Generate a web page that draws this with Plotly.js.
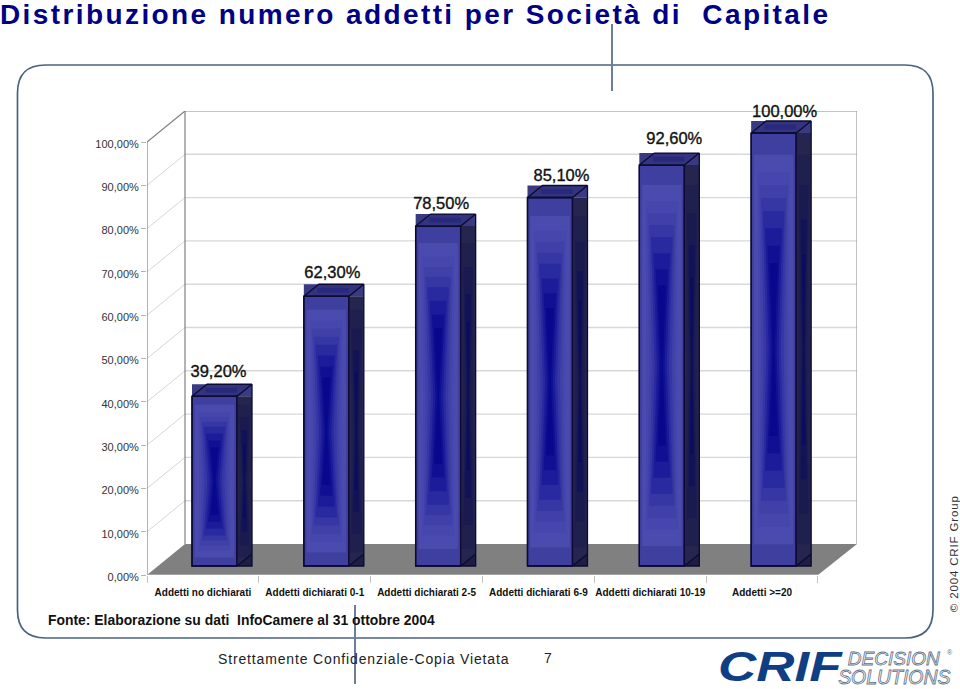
<!DOCTYPE html>
<html><head><meta charset="utf-8">
<script src="https://cdn.plot.ly/plotly-3.0.1.min.js"></script>
<style>
html,body{margin:0;padding:0;background:#fff}
#c{width:960px;height:689px}
.gtitle{letter-spacing:2.4px}
g.annotation[data-index="1"] text{letter-spacing:.85px}
g.annotation[data-index="3"] text{letter-spacing:.85px}
g.annotation[data-index="4"] text{transform-box:fill-box;transform-origin:center;transform:translateY(1px) scale(1.47,1.2)}
g.annotation[data-index="5"] text,g.annotation[data-index="6"] text{fill:#fff !important;stroke:#5f7288;stroke-width:.6px;transform-box:fill-box;transform-origin:center;transform:scale(1.36)}
.textpoint text{stroke:#111;stroke-width:.35px}
</style>
</head><body><div id="c"></div>
<script>
// ---- chart data ----
const categories = ['Addetti no dichiarati','Addetti dichiarati 0-1','Addetti dichiarati 2-5','Addetti dichiarati 6-9','Addetti dichiarati 10-19','Addetti >=20'];
const values = [39.2, 62.3, 78.5, 85.1, 92.6, 100];
const yTicks = [0,10,20,30,40,50,60,70,80,90,100];
const yTickLabels = ['0,00%','10,00%','20,00%','30,00%','40,00%','50,00%','60,00%','70,00%','80,00%','90,00%','100,00%'];

// ---- figure geometry (pixels of the frame) ----
const W=960,H=689, L=147,R=857,T=111,B=575;
const xUnit=111.83, yUnit=4.33;
const xMax=(R-L)/xUnit, yMax=(B-T)/yUnit;
const wallDX=38/xUnit, wallDY=31/yUnit;
const floorRight=6;
const barW=45/xUnit, barLeft=45/xUnit, barBase=9/yUnit, capDX=15/xUnit, capDY=12/yUnit;
const labelShift=[4,6,3,11.5,12.5,11], labelLift=[11,10,9,9,13,8];
const px=x=>(x-L)/(R-L), py=y=>(B-y)/(B-T);
const P=(x,y)=>px(x)+' '+py(y);

const lefts=values.map((v,i)=>i+barLeft);
const centers=lefts.map(l=>l+barW/2);

function polys(list,color,extra){
  const x=[],y=[];
  list.forEach(p=>{p.forEach(q=>{x.push(q[0]);y.push(q[1]);});x.push(p[0][0],null);y.push(p[0][1],null);});
  return Object.assign({type:'scatter',mode:'none',x,y,fill:'toself',fillcolor:color,hoverinfo:'skip',showlegend:false,cliponaxis:false},extra||{});
}
function glass(cx,hw,b,t,lay){
  const h=t-b,m=(b+t)/2,i=lay[0]*h,e=lay[1]*hw*2,n=lay[2]*hw*2;
  return [[cx-e,b+i],[cx+e,b+i],[cx+n,m],[cx+e,t-i],[cx-e,t-i],[cx-n,m]];
}
// [inset, half width at the ends, half width at the waist, colour]
const frontLayers=[[.05,.44,.44,'#4b4bae'],[.07,.40,.39,'#4a4ab0'],[.09,.36,.34,'#4646ac'],[.12,.32,.28,'#4040a8'],
  [.15,.28,.22,'#3636a4'],[.18,.24,.16,'#2a2aa0'],[.22,.19,.11,'#1c1c9a'],[.26,.14,.06,'#101094'],[.30,.09,.02,'#08088c']];
const sideLayers=[[.05,.42,.36,'#20204f'],[.12,.32,.20,'#1a1a50'],[.2,.2,.08,'#121258'],[.28,.12,.03,'#0c0c5c']];

const traces=[];
traces.push(polys(values.map((v,i)=>{const l=lefts[i],t=barBase+v;
  return [[l,t],[l+barW+capDX,t],[l+barW+capDX,t+capDY],[l,t+capDY]];}),'#3a3a82'));
traces.push(polys(values.map((v,i)=>{const l=lefts[i]+barW,t=barBase+v;
  return [[l,barBase],[l+capDX,barBase],[l+capDX,t],[l,t]];}),'#25254f'));
sideLayers.forEach(s=>traces.push(polys(values.map((v,i)=>glass(lefts[i]+barW+capDX/2,capDX/2,barBase,barBase+v,s)),s[3])));
traces.push(polys(values.map((v,i)=>{const l=lefts[i],t=barBase+v;
  return [[l,t],[l+barW,t],[l+barW+capDX,t+capDY],[l+capDX,t+capDY]];}),'#34347e'));
traces.push(polys(values.map((v,i)=>{const l=lefts[i],t=barBase+v;
  return [[l+capDX*.9,t+capDY*.3],[l+barW,t+capDY*.3],[l+barW,t+capDY*.7],[l+capDX*.9,t+capDY*.7]];}),'#28287e'));
traces.push(polys(values.map((v,i)=>{const l=lefts[i]+barW;
  return [[l,barBase],[l+capDX,barBase],[l+capDX,barBase+capDY]];}),'#1e1e44'));
traces.push({type:'bar',x:centers,y:values,base:values.map(()=>barBase),width:barW,
  marker:{color:'#3f3fa0',line:{color:'#0a0a38',width:1.4}},hoverinfo:'skip',showlegend:false});
frontLayers.forEach(s=>traces.push(polys(values.map((v,i)=>glass(centers[i],barW/2,barBase,barBase+v,s)),s[3])));
(function(){
  const x=[],y=[];
  values.forEach((v,i)=>{const l=lefts[i],r=l+barW,t=barBase+v;
    [[l,t],[l+capDX,t+capDY],[r+capDX,t+capDY],[r,t],[l,t],[null,null],
     [r+capDX,t+capDY],[r+capDX,barBase],[r,barBase],[r+capDX,barBase+capDY],[null,null],
     [l,t],[r,t],[r,barBase],[l,barBase],[l,t],[null,null]].forEach(q=>{x.push(q[0]);y.push(q[1]);});
  });
  traces.push({type:'scatter',mode:'lines',x,y,line:{color:'#0a0a32',width:1.3},hoverinfo:'skip',showlegend:false,connectgaps:false,cliponaxis:false});
})();
traces.push({type:'scatter',mode:'text',
  x:centers.map((c,i)=>c+labelShift[i]/xUnit),
  y:values.map((v,i)=>v+barBase+capDY+labelLift[i]/yUnit),
  text:values.map(v=>v.toFixed(2).replace('.',',')+'%'),
  textposition:'middle center',textfont:{family:'Liberation Sans',size:16.5,color:'#111'},
  hoverinfo:'skip',showlegend:false,cliponaxis:false});

const shapes=[];
const seg=(x0,y0,x1,y1,color,width)=>({type:'line',layer:'below',xref:'x',yref:'y',x0,y0,x1,y1,line:{color,width}});
shapes.push({type:'path',layer:'below',xref:'x',yref:'y',
  path:`M 0 0 L ${floorRight} 0 L ${xMax} ${wallDY} L ${wallDX} ${wallDY} Z`,fillcolor:'#808080',line:{width:0}});
yTicks.slice(1,-1).forEach(v=>{
  shapes.push(seg(0,v,wallDX,v+wallDY,'#d6d6d6',1));
  shapes.push(seg(wallDX,v+wallDY,xMax,v+wallDY,'#d8d8d8',1.4));
});
const wall='#808080';
shapes.push(seg(0,0,0,100,wall,1.2));
shapes.push(seg(0,100,wallDX,100+wallDY,wall,1.2));
shapes.push(seg(wallDX,wallDY,wallDX,100+wallDY,wall,1.2));
shapes.push(seg(wallDX,100+wallDY,xMax,100+wallDY,'#8a8a8a',1.2));
shapes.push(seg(xMax,wallDY,xMax,100+wallDY,'#9a9a9a',1.2));
shapes.push(seg(0,0,floorRight,0,'#c8c8c8',1));

const x0=17.5,x1=933,y0=65,y1=638,r=28;
shapes.push({type:'path',layer:'below',xref:'paper',yref:'paper',
  path:`M ${P(x0+r,y0)} L ${P(x1-r,y0)} Q ${P(x1,y0)} ${P(x1,y0+r)} L ${P(x1,y1-r)} Q ${P(x1,y1)} ${P(x1-r,y1)} L ${P(x0+r,y1)} Q ${P(x0,y1)} ${P(x0,y1-r)} L ${P(x0,y0+r)} Q ${P(x0,y0)} ${P(x0+r,y0)} Z`,
  line:{color:'#4c6280',width:1.7},fillcolor:'rgba(0,0,0,0)'});
const vline=(x,a,b)=>({type:'line',xref:'paper',yref:'paper',x0:px(x),x1:px(x),y0:py(a),y1:py(b),line:{color:'#6f7d9c',width:2}});
shapes.push(vline(612,24,91));
shapes.push(vline(355,605,684));

const ann=(text,x,y,o)=>Object.assign({text,xref:'paper',yref:'paper',x:px(x),y:py(y),showarrow:false,xanchor:'center',yanchor:'middle'},o);
const annotations=[
 ann('Fonte: Elaborazione su dati\u00a0\u00a0InfoCamere al 31 ottobre 2004',46,620,{xanchor:'left',font:{family:'Liberation Sans',size:13.9,weight:700,color:'#111'}}),
 ann('Strettamente Confidenziale-Copia Vietata',363.5,659,{font:{family:'Liberation Sans',size:14,color:'#222'}}),
 ann('7',548,658,{font:{family:'Liberation Sans',size:14,color:'#222'}}),
 ann('© 2004 CRIF Group',953.5,554.5,{textangle:-90,font:{family:'Liberation Sans',size:11.5,color:'#333'}}),
 ann('CRIF',780,664,{font:{family:'Liberation Sans',size:36,weight:900,style:'italic',color:'#0f3e85'}}),
 ann('DECISION',894.5,658,{font:{family:'Liberation Sans',size:14,style:'italic',color:'#5f7288'}}),
 ann('SOLUTIONS',894,676.5,{font:{family:'Liberation Sans',size:14.3,style:'italic',color:'#5f7288'}}),
 ann('®',950,652,{font:{family:'Liberation Sans',size:7,color:'#5f7288'}})
];

const layout={
 width:W,height:H,margin:{l:L,r:W-R,t:T,b:H-B,autoexpand:false},
 paper_bgcolor:'#fff',plot_bgcolor:'rgba(0,0,0,0)',showlegend:false,hovermode:false,
 barmode:'overlay',
 title:{text:'Distribuzione numero addetti per Società di\u00a0\u00a0Capitale',x:0,xref:'paper',xanchor:'left',
   y:1-14/H,yref:'container',yanchor:'middle',pad:{l:-L},
   font:{family:'Liberation Sans',size:28,weight:700,color:'#000085'}},
 xaxis:{range:[0,xMax],tickvals:categories.map((c,i)=>i+.5),ticktext:categories,ticks:'outside',ticklen:8,tickcolor:'rgba(0,0,0,0)',
   showgrid:false,zeroline:false,showline:false,tickangle:0,
   tickfont:{family:'Liberation Sans',size:10,weight:700,color:'#111'},
   minor:{tickvals:[0,1,2,3,4,5,6],ticks:'outside',ticklen:7,tickcolor:'#c4c4c4',showgrid:false}},
 yaxis:{range:[0,yMax],tickvals:yTicks,ticktext:yTickLabels,ticks:'outside',ticklen:5,tickcolor:'#b5b5b5',ticklabelshift:2,
   showgrid:false,zeroline:false,showline:false,
   tickfont:{family:'Liberation Sans',size:11,color:'#333'}},
 shapes,annotations
};
Plotly.newPlot('c',traces,layout,{displayModeBar:false,staticPlot:true});
</script></body></html>
